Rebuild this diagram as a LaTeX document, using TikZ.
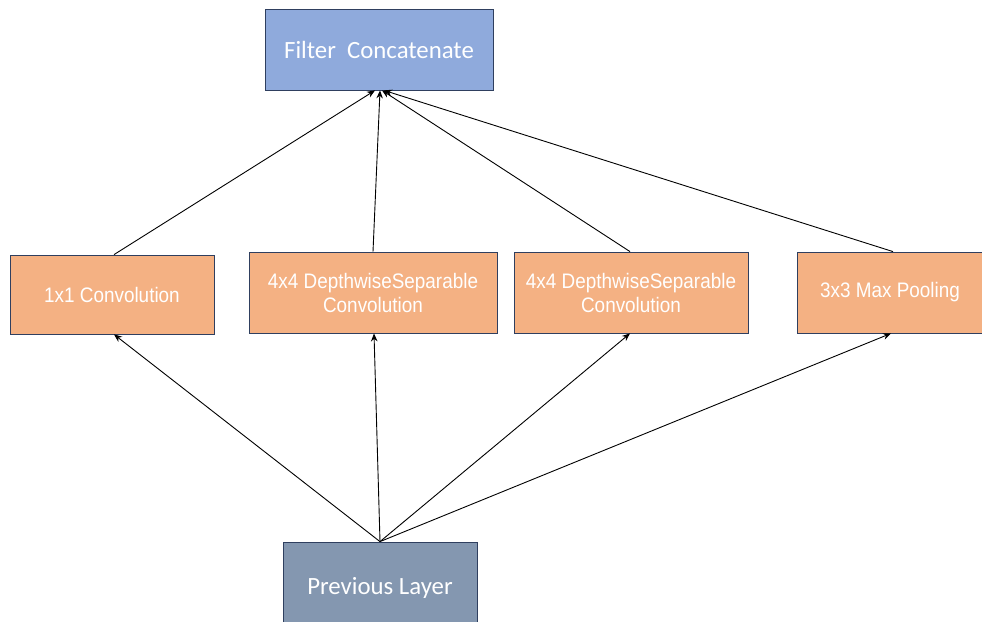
\documentclass[tikz,border=0pt]{standalone}
\usepackage{fontspec}
\setmainfont{Liberation Sans}
\newfontfamily\narrowarial[FakeStretch=0.9]{Liberation Sans}
\newfontfamily\calib{Carlito}
\usetikzlibrary{arrows.meta}
\definecolor{fcblue}{HTML}{8FAADC}
\definecolor{convor}{HTML}{F4B183}
\definecolor{prevgr}{HTML}{8497B0}
\definecolor{edgeblue}{HTML}{2F3F5F}
\tikzset{
  box/.style={draw=edgeblue, line width=0.8pt, rectangle, inner sep=0pt, align=center, text=white},
  convbox/.style={box, fill=convor, font=\narrowarial\fontsize{21}{24}\selectfont},
  bluebox/.style={box, font=\calib\fontsize{24.8}{28}\selectfont},
  conn/.style={black, line width=0.9pt, -{Stealth[length=8pt,width=6.5pt]}}
}
\begin{document}
\begin{tikzpicture}[x=1pt,y=-1pt]
\useasboundingbox (0,0) rectangle (982,621);
\node[bluebox, fill=fcblue, minimum width=228, minimum height=81] (fc) at (379,49.5) {Filter\ \ Concatenate};
\node[convbox, minimum width=204, minimum height=79] (c1) at (112,294.5) {1x1 Convolution};
\node[convbox, minimum width=248, minimum height=81] (d1) at (373,292.5) {4x4 DepthwiseSeparable\\Convolution};
\node[convbox, minimum width=234, minimum height=81] (d2) at (631,292.5) {4x4 DepthwiseSeparable\\Convolution};
\node[convbox, minimum width=186, minimum height=81] (mp) at (890,292.5) {3x3 Max Pooling};
\node[bluebox, fill=prevgr, minimum width=194, minimum height=88, text depth=0pt] (pl) at (380,586) {Previous Layer};
\coordinate (pltop) at ([yshift=0pt]pl.north);
\draw[conn] ([xshift=2pt]c1.north) -- ([xshift=-4pt]fc.south);
\draw[conn] (d1.north) -- ([xshift=1pt]fc.south);
\draw[conn] ([xshift=-1pt]d2.north) -- ([xshift=3pt]fc.south);
\draw[conn] ([xshift=3pt]mp.north) -- ([xshift=5pt]fc.south);
\draw[conn] (pltop) -- ([xshift=2pt]c1.south);
\draw[conn] (pltop) -- ([xshift=1pt]d1.south);
\draw[conn] (pltop) -- ([xshift=-1pt]d2.south);
\draw[conn] (pltop) -- ([xshift=1pt]mp.south);
\end{tikzpicture}
\end{document}
